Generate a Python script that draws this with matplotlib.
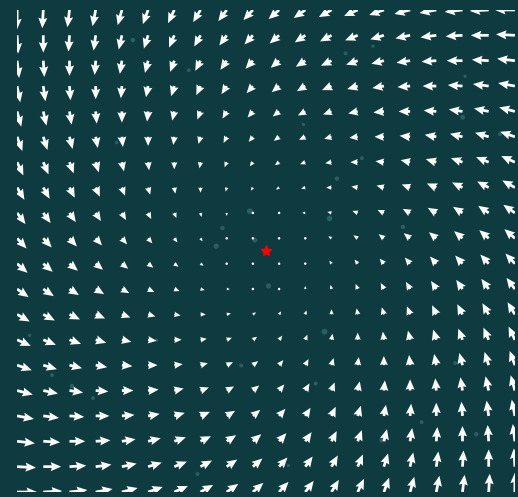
import matplotlib
matplotlib.use("Agg")
import matplotlib.pyplot as plt
import numpy as np

# ==== grid and field parameters ====
n_grid = 20
x_lim = [-2.0, 2.0]
y_lim = [-2.0, 2.0]
swirl = 1.0   # counter-clockwise rotation strength
sink = 1.0    # inward pull towards the centre

# ==== the attractor ====
star_x = [0.0]
star_y = [0.0]

# ==== drifting tracer particles (data coords) ====
part_x = [-1.07, 0.64, 0.86, 1.58, 0.77, 0.57, -2.1, -0.13, -0.09,
          -0.40, -0.35, 0.51, 0.02, 0.47, -1.72, -1.56, -1.39, -0.88,
          1.35, 1.52, 1.25, 0.93, 0.18, -0.55, 1.69, 1.88, -1.90,
          0.30, -0.62, 1.10, -1.20, 0.40, 1.60, -0.20]
part_y = [1.75, 1.64, 1.70, 1.11, 0.77, 0.60, 0.55, 0.33, 0.09,
          0.04, 0.19, 0.27, -0.29, -0.67, -1.03, -1.12, -1.22, -0.74,
          -1.13, -0.93, -1.42, -1.57, -1.78, -1.85, -1.52, 0.97, -0.70,
          1.05, 1.50, 0.20, 0.90, -1.10, 1.45, -0.95]
part_s = [10, 8, 6, 12, 8, 10, 6, 18, 12,
          14, 10, 16, 14, 18, 8, 10, 8, 6,
          10, 8, 8, 12, 6, 8, 10, 8, 6,
          6, 8, 10, 6, 8, 6, 8]

bg = '#0e3b40'

x = np.linspace(x_lim[0], x_lim[1], n_grid)
y = np.linspace(y_lim[0], y_lim[1], n_grid)
X, Y = np.meshgrid(x, y)
U = -swirl * Y - sink * X
V = swirl * X - sink * Y

fig = plt.figure(figsize=(5.18, 4.97), dpi=100, facecolor=bg)
ax = fig.add_axes([0.033, 0.010, 0.961, 0.970])
ax.set_facecolor(bg)

ax.scatter(part_x, part_y, s=part_s, color='#6fb0b0', alpha=0.3, linewidths=0)
ax.quiver(X, Y, U, V, color='white', pivot='tail', angles='xy',
          scale_units='xy', scale=25, width=0.0055, headwidth=3.3,
          headlength=3.8, headaxislength=3.4)
ax.plot(star_x, star_y, marker='*', color='red', markersize=8, linestyle='none')

ax.set_xlim(x_lim)
ax.set_ylim(y_lim)
ax.axis('off')

fig.savefig('out.png', dpi=100, facecolor=bg)
